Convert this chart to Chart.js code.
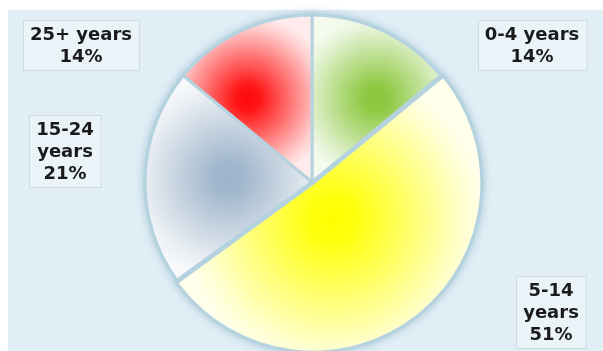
<!DOCTYPE html>
<html>
<head>
<meta charset="utf-8">
<script src="https://cdn.jsdelivr.net/npm/chart.js@4.4.1/dist/chart.umd.min.js"></script>
<style>
  html, body { margin: 0; padding: 0; background: #ffffff; }
  #wrap { width: 603px; height: 351px; position: relative; }
  canvas { display: block; }
</style>
</head>
<body>
<div id="wrap"><canvas id="chart" width="603" height="351"></canvas></div>
<script>
// Age groups and their share of the total (percent)
const categories = ['0-4 years', '5-14 years', '15-24 years', '25+ years'];
const shares = [14, 51, 21, 14];

// Styling
const sliceColors = ['#88c63a', '#ffff00', '#9cb3ca', '#ff0a0a'];
const sliceOffsets = [0, 7, 0, 0];
const panelColor = '#e1eef5';
const separatorColor = '#b5d2df';
const labelFont = 'bold 18px "DejaVu Sans", Verdana, sans-serif';
const labelLineHeight = 22;

// Where each label box sits (centre) and the width at which its text wraps
const labelLayout = [
  { cx: 532, cy: 45, wrap: 200 },
  { cx: 551, cy: 312, wrap: 60 },
  { cx: 65, cy: 151, wrap: 60 },
  { cx: 81, cy: 45, wrap: 200 }
];

function hexToRgb(hex) {
  const n = parseInt(hex.slice(1), 16);
  return [(n >> 16) & 255, (n >> 8) & 255, n & 255];
}
function towardWhite(hex, t) {
  const [r, g, b] = hexToRgb(hex);
  const f = c => Math.round(c + (255 - c) * t);
  return `rgb(${f(r)},${f(g)},${f(b)})`;
}

// Radial highlight centred on the bounding box of each slice
function sliceFill(context) {
  const i = context.dataIndex;
  const base = sliceColors[i];
  const chart = context.chart;
  const arc = chart.getDatasetMeta(0).data[i];
  if (!arc) return base;
  const p = arc.getProps(['x', 'y', 'startAngle', 'endAngle', 'outerRadius'], true);
  if (!p.outerRadius || !isFinite(p.startAngle)) return base;
  const off = sliceOffsets[i] || 0;
  const mid = (p.startAngle + p.endAngle) / 2;
  const ox = p.x + Math.cos(mid) * off;
  const oy = p.y + Math.sin(mid) * off;
  const R = p.outerRadius;
  const xs = [ox], ys = [oy];
  const addAt = a => { xs.push(ox + Math.cos(a) * R); ys.push(oy + Math.sin(a) * R); };
  addAt(p.startAngle);
  addAt(p.endAngle);
  for (let k = -8; k <= 8; k++) {
    const a = k * Math.PI / 2;
    if (a > p.startAngle && a < p.endAngle) addAt(a);
  }
  const minX = Math.min(...xs), maxX = Math.max(...xs);
  const minY = Math.min(...ys), maxY = Math.max(...ys);
  const gx = (minX + maxX) / 2, gy = (minY + maxY) / 2;
  const r = Math.max(maxX - minX, maxY - minY) / 2;
  const g = chart.ctx.createRadialGradient(gx, gy, 0, gx, gy, r);
  g.addColorStop(0, base);
  g.addColorStop(0.15, towardWhite(base, 0.05));
  g.addColorStop(0.5, towardWhite(base, 0.42));
  g.addColorStop(0.85, towardWhite(base, 0.8));
  g.addColorStop(1, towardWhite(base, 0.92));
  return g;
}

// Light blue panel behind the chart
const panelPlugin = {
  id: 'panel',
  beforeDraw(chart) {
    const ctx = chart.ctx;
    ctx.save();
    ctx.fillStyle = '#ffffff';
    ctx.fillRect(0, 0, chart.width, chart.height);
    ctx.fillStyle = panelColor;
    ctx.fillRect(8, 10, chart.width - 8, chart.height - 10);
    ctx.restore();
  }
};

// Soft glow around the slices
const glowPlugin = {
  id: 'glow',
  beforeDatasetsDraw(chart) {
    const ctx = chart.ctx;
    chart.getDatasetMeta(0).data.forEach(arc => {
      ctx.save();
      ctx.shadowColor = 'rgba(110,160,190,0.45)';
      ctx.shadowBlur = 8;
      arc.draw(ctx);
      ctx.restore();
    });
  }
};

// Boxed category / percentage labels
const boxLabelPlugin = {
  id: 'boxLabels',
  afterDraw(chart) {
    const ctx = chart.ctx;
    const values = chart.data.datasets[0].data;
    const total = values.reduce((a, b) => a + b, 0);
    ctx.save();
    ctx.font = labelFont;
    chart.data.labels.forEach((name, i) => {
      const lay = labelLayout[i];
      const lines = [];
      let cur = '';
      name.split(' ').forEach(w => {
        const test = cur ? cur + ' ' + w : w;
        if (cur && ctx.measureText(test).width > lay.wrap) { lines.push(cur); cur = w; }
        else cur = test;
      });
      lines.push(cur);
      lines.push(Math.round(values[i] / total * 100) + '%');
      const w = Math.max(...lines.map(l => ctx.measureText(l).width)) + 14;
      const h = lines.length * labelLineHeight + 6;
      const x = Math.round(lay.cx - w / 2) + 0.5;
      const y = Math.round(lay.cy - h / 2) + 0.5;
      ctx.fillStyle = 'rgba(255,255,255,0.3)';
      ctx.fillRect(x, y, w, h);
      ctx.strokeStyle = '#cddbe2';
      ctx.lineWidth = 1;
      ctx.strokeRect(x, y, w, h);
      ctx.fillStyle = '#1b1b1b';
      ctx.textAlign = 'center';
      ctx.textBaseline = 'middle';
      lines.forEach((l, k) => {
        ctx.fillText(l, lay.cx, lay.cy + (k - (lines.length - 1) / 2) * labelLineHeight + 1);
      });
    });
    ctx.restore();
  }
};

const chart = new Chart(document.getElementById('chart'), {
  type: 'pie',
  data: {
    labels: categories,
    datasets: [{
      data: shares,
      backgroundColor: sliceFill,
      borderColor: separatorColor,
      borderWidth: 3,
      offset: sliceOffsets
    }]
  },
  options: {
    responsive: false,
    devicePixelRatio: 1,
    animation: false,
    radius: 167,
    layout: { padding: { left: 144, right: 123, top: 14, bottom: 1 } },
    plugins: {
      legend: { display: false },
      tooltip: { enabled: false }
    }
  },
  plugins: [panelPlugin, glowPlugin, boxLabelPlugin]
});
// second pass so the gradients see the laid-out slice geometry
chart.update('none');
</script>
</body>
</html>
